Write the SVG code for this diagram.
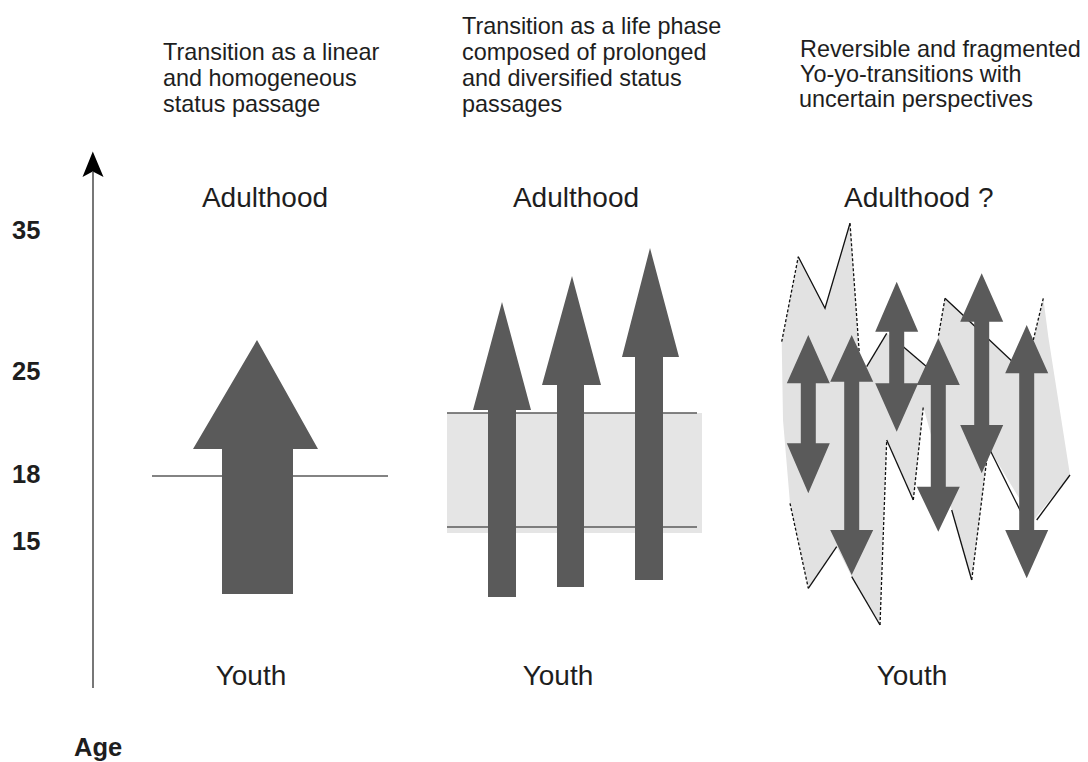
<svg xmlns="http://www.w3.org/2000/svg" width="1088" height="762" viewBox="0 0 1088 762">
<style>
text{font-family:"Liberation Sans",Arial,sans-serif;fill:#1e1e1e}
.title{font-size:23.4px}
.lbl{font-size:28px}
.num{font-size:25.5px;font-weight:bold}
.arr{fill:#5a5a5a}
.band{fill:#e5e5e5}
.hl{stroke:#5a5a5a;stroke-width:1.5;fill:none}
.zz{stroke:#111;stroke-width:1.3;fill:none}
.dash{stroke-dasharray:3 2}
</style>
<rect width="1088" height="762" fill="#fff"/>

<g id="axis">
<line x1="93" y1="688" x2="93" y2="172" stroke="#777" stroke-width="2"/>
<path d="M92.8,151.5 L103.5,177 L92.8,171.5 L82.5,177 Z" fill="#000"/>
<text class="num" x="12" y="238.5">35</text>
<text class="num" x="12" y="380">25</text>
<text class="num" x="12" y="483">18</text>
<text class="num" x="12" y="550">15</text>
<text x="74" y="756" style="font-size:25.5px;font-weight:bold">Age</text>
</g>

<g id="panel-linear">
<text class="title" x="163" y="60">Transition as a linear</text>
<text class="title" x="163" y="86">and homogeneous</text>
<text class="title" x="163" y="112">status passage</text>
<text class="lbl" x="265" y="206.5" text-anchor="middle">Adulthood</text>
<line class="hl" x1="152" y1="476" x2="388" y2="476"/>
<polygon class="arr" points="257,340 318,449 293,449 293,594 222,594 222,449 193,449"/>
<text class="lbl" x="251" y="685" text-anchor="middle">Youth</text>
</g>

<g id="panel-prolonged">
<text class="title" x="462" y="33.5">Transition as a life phase</text>
<text class="title" x="462" y="59.5">composed of prolonged</text>
<text class="title" x="462" y="85.5">and diversified status</text>
<text class="title" x="462" y="111.5">passages</text>
<text class="lbl" x="576" y="206.5" text-anchor="middle">Adulthood</text>
<rect class="band" x="447" y="413" width="255" height="120"/>
<line class="hl" x1="447" y1="413" x2="697" y2="413"/>
<line class="hl" x1="447" y1="527" x2="697" y2="527"/>
<polygon class="arr" points="502,302 531,410 516,410 516,597 488,597 488,410 473,410"/>
<polygon class="arr" points="572,276 601,385 584,385 584,587 557,587 557,385 542,385"/>
<polygon class="arr" points="650,248 679,357 663,357 663,580 635,580 635,357 622,357"/>
<text class="lbl" x="558" y="685" text-anchor="middle">Youth</text>
</g>

<g id="panel-yoyo">
<text class="title" x="800" y="57">Reversible and fragmented</text>
<text class="title" x="800" y="82">Yo-yo-transitions with</text>
<text class="title" x="799" y="107">uncertain perspectives</text>
<text class="lbl" x="844" y="206.5">Adulthood ?</text>
<polygon fill="#e2e2e2" points="781.7,341.7 798.3,256.7 825,308.3 850,223.3 859.3,353.3 866.7,366.7 886.7,333.3 903.3,346.7 926.7,366.7 938.3,336.7 945,298.3 970,320 1010,360 1023,370 1033.3,341.7 1043.3,298.3 1048.3,336.7 1070,475 1033,521 990,450 986.7,460 971.7,580 951.7,510 923.3,406.7 913.3,500 886.7,440 880,625 851.7,576.7 836.7,546.7 808.3,588.3 790,503.3 783,420"/>
<g id="zigzag-lines">
<polyline class="zz" points="798.3,256.7 825,308.3 850,223.3"/>
<line class="zz" x1="866.7" y1="366.7" x2="886.7" y2="333.3"/>
<line class="zz" x1="903.3" y1="346.7" x2="926.7" y2="366.7"/>
<line class="zz" x1="945" y1="298.3" x2="1015" y2="364"/>
<line class="zz" x1="1070" y1="475" x2="1036.7" y2="520"/>
<line class="zz" x1="990" y1="450" x2="1023.3" y2="516.7"/>
<line class="zz" x1="886.7" y1="440" x2="913.3" y2="500"/>
<line class="zz" x1="851.7" y1="576.7" x2="880" y2="625"/>
<line class="zz" x1="808.3" y1="588.3" x2="836.7" y2="546.7"/>
<line class="zz" x1="951.7" y1="510" x2="971.7" y2="580"/>
<line class="zz dash" x1="781.7" y1="341.7" x2="798.3" y2="256.7"/>
<line class="zz dash" x1="850" y1="223.3" x2="859.3" y2="353.3"/>
<line class="zz dash" x1="945" y1="298.3" x2="938.3" y2="336.7"/>
<line class="zz dash" x1="1043.3" y1="298.3" x2="1033.3" y2="340"/>
<line class="zz dash" x1="913.3" y1="500" x2="923.3" y2="406.7"/>
<line class="zz dash" x1="880" y1="625" x2="886.7" y2="440"/>
<line class="zz dash" x1="971.7" y1="580" x2="986.7" y2="460"/>
<line class="zz dash" x1="790" y1="503.3" x2="808.3" y2="588.3"/>
</g>
<polygon class="arr" points="808.3,335 829.8,383.3 815.8,383.3 815.8,443.3 829.8,443.3 808.3,493.3 786.8,443.3 800.8,443.3 800.8,383.3 786.8,383.3"/>
<polygon class="arr" points="851.7,335 873.2,381.7 859.2,381.7 859.2,530 873.2,530 851.7,575 830.2,530 844.2,530 844.2,381.7 830.2,381.7"/>
<polygon class="arr" points="896.7,281.7 918.2,331.7 904.2,331.7 904.2,383.3 918.2,383.3 896.7,431.7 875.2,383.3 889.2,383.3 889.2,331.7 875.2,331.7"/>
<polygon class="arr" points="938.3,338.3 959.8,385 945.8,385 945.8,486.7 959.8,486.7 938.3,531.7 916.8,486.7 930.8,486.7 930.8,385 916.8,385"/>
<polygon class="arr" points="981.7,273.3 1003.2,321.7 989.2,321.7 989.2,425 1003.2,425 981.7,473.3 960.2,425 974.2,425 974.2,321.7 960.2,321.7"/>
<polygon class="arr" points="1026.7,325 1048.2,373.3 1034.2,373.3 1034.2,530 1048.2,530 1026.7,578.3 1005.2,530 1019.2,530 1019.2,373.3 1005.2,373.3"/>
<text class="lbl" x="912" y="685" text-anchor="middle">Youth</text>
</g>
</svg>
